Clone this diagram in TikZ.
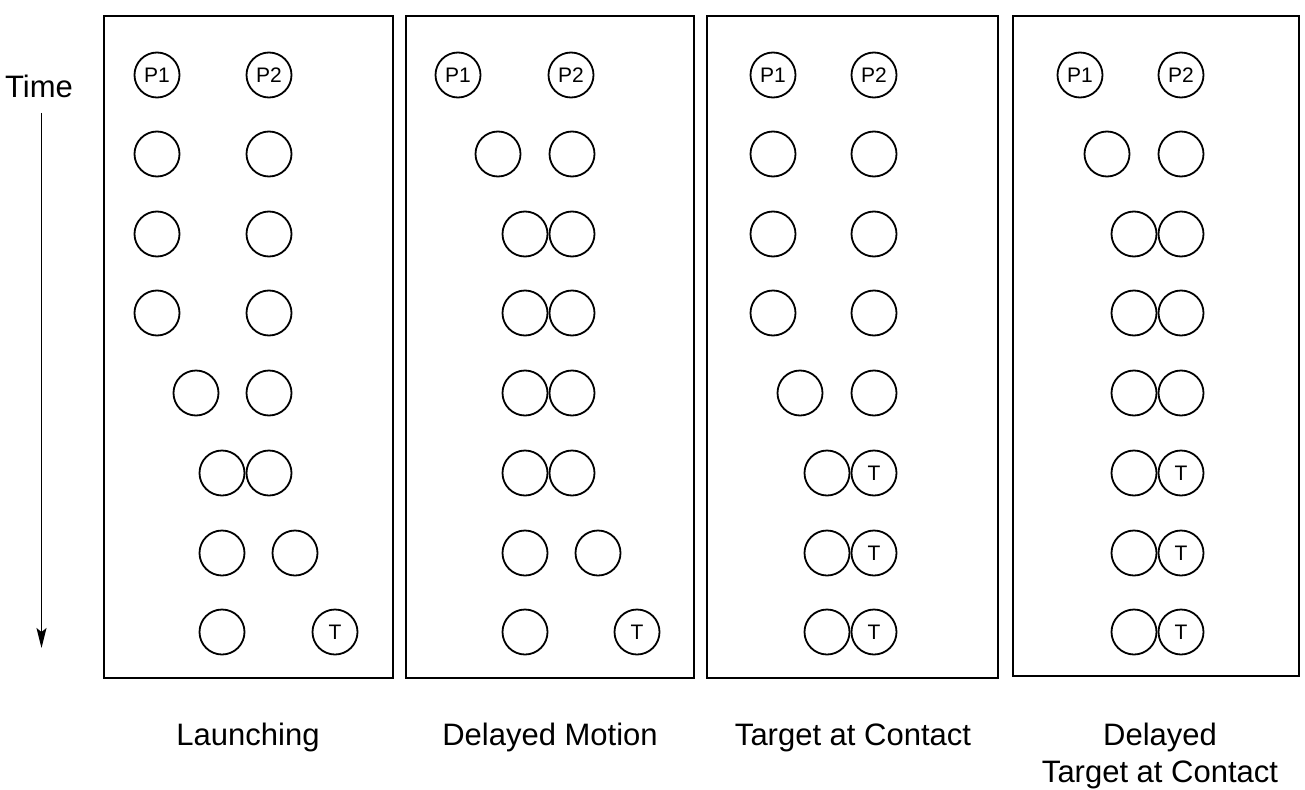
\documentclass[tikz,border=0pt]{standalone}
\usepackage{fontspec}
\setmainfont{Liberation Sans}
\usetikzlibrary{arrows.meta}
\begin{document}
\begin{tikzpicture}[x=1pt,y=-1pt,
  ball/.style={circle,draw,line width=1.8pt,minimum size=45pt,inner sep=0pt,font=\fontsize{21}{21}\selectfont},
  panel/.style={draw,line width=1.8pt},
  caption/.style={anchor=base,font=\fontsize{31}{31}\selectfont,inner sep=0pt}]
\useasboundingbox (0,0) rectangle (1305,789);
% panels
\draw[panel] (104,16) rectangle (393,678);
\draw[panel] (406,16) rectangle (694,678);
\draw[panel] (707,16) rectangle (998,678);
\draw[panel] (1013,16) rectangle (1299,676);
% time
\node[anchor=base west,font=\fontsize{31}{31}\selectfont,inner sep=0pt] (time) at (5,98) {Time};
\coordinate (ts) at (41.5,113);
\coordinate (te) at (41.5,648);
\draw[line width=1.8pt,-{Stealth[length=20pt,width=10pt,inset=4pt]}] (ts) -- (te);
% panel 1: Launching
\node[ball] (a1l) at (157,75) {P1}; \node[ball] (a1r) at (269,75) {P2};
\node[ball] (a2l) at (157,154) {}; \node[ball] (a2r) at (269,154) {};
\node[ball] (a3l) at (157,234) {}; \node[ball] (a3r) at (269,234) {};
\node[ball] (a4l) at (157,313) {}; \node[ball] (a4r) at (269,313) {};
\node[ball] (a5l) at (196,393) {}; \node[ball] (a5r) at (269,393) {};
\node[ball] (a6l) at (222,473) {}; \node[ball] (a6r) at (269,473) {};
\node[ball] (a7l) at (222,553) {}; \node[ball] (a7r) at (295,553) {};
\node[ball] (a8l) at (222,632) {}; \node[ball] (a8r) at (335,632) {T};
% panel 2: Delayed Motion
\node[ball] (b1l) at (458,75) {P1}; \node[ball] (b1r) at (571,75) {P2};
\node[ball] (b2l) at (498,154) {}; \node[ball] (b2r) at (572,154) {};
\node[ball] (b3l) at (525,234) {}; \node[ball] (b3r) at (572,234) {};
\node[ball] (b4l) at (525,313) {}; \node[ball] (b4r) at (572,313) {};
\node[ball] (b5l) at (525,393) {}; \node[ball] (b5r) at (572,393) {};
\node[ball] (b6l) at (525,473) {}; \node[ball] (b6r) at (572,473) {};
\node[ball] (b7l) at (525,553) {}; \node[ball] (b7r) at (598,553) {};
\node[ball] (b8l) at (525,632) {}; \node[ball] (b8r) at (637,632) {T};
% panel 3: Target at Contact
\node[ball] (c1l) at (773,75) {P1}; \node[ball] (c1r) at (874,75) {P2};
\node[ball] (c2l) at (773,154) {}; \node[ball] (c2r) at (874,154) {};
\node[ball] (c3l) at (773,234) {}; \node[ball] (c3r) at (874,234) {};
\node[ball] (c4l) at (773,313) {}; \node[ball] (c4r) at (874,313) {};
\node[ball] (c5l) at (800,393) {}; \node[ball] (c5r) at (874,393) {};
\node[ball] (c6l) at (827,473) {}; \node[ball] (c6r) at (874,473) {T};
\node[ball] (c7l) at (827,553) {}; \node[ball] (c7r) at (874,553) {T};
\node[ball] (c8l) at (827,632) {}; \node[ball] (c8r) at (874,632) {T};
% panel 4: Delayed Target at Contact
\node[ball] (d1l) at (1080,75) {P1}; \node[ball] (d1r) at (1181,75) {P2};
\node[ball] (d2l) at (1107,154) {}; \node[ball] (d2r) at (1181,154) {};
\node[ball] (d3l) at (1134,234) {}; \node[ball] (d3r) at (1181,234) {};
\node[ball] (d4l) at (1134,313) {}; \node[ball] (d4r) at (1181,313) {};
\node[ball] (d5l) at (1134,393) {}; \node[ball] (d5r) at (1181,393) {};
\node[ball] (d6l) at (1134,473) {}; \node[ball] (d6r) at (1181,473) {T};
\node[ball] (d7l) at (1134,553) {}; \node[ball] (d7r) at (1181,553) {T};
\node[ball] (d8l) at (1134,632) {}; \node[ball] (d8r) at (1181,632) {T};
% captions
\node[caption] (l1) at (248,745) {Launching};
\node[caption] (l2) at (550,745) {Delayed Motion};
\node[caption] (l3) at (853,745) {Target at Contact};
\node[caption] (l4) at (1160,745) {Delayed};
\node[caption] (l5) at (1160,782) {Target at Contact};
\end{tikzpicture}
\end{document}
